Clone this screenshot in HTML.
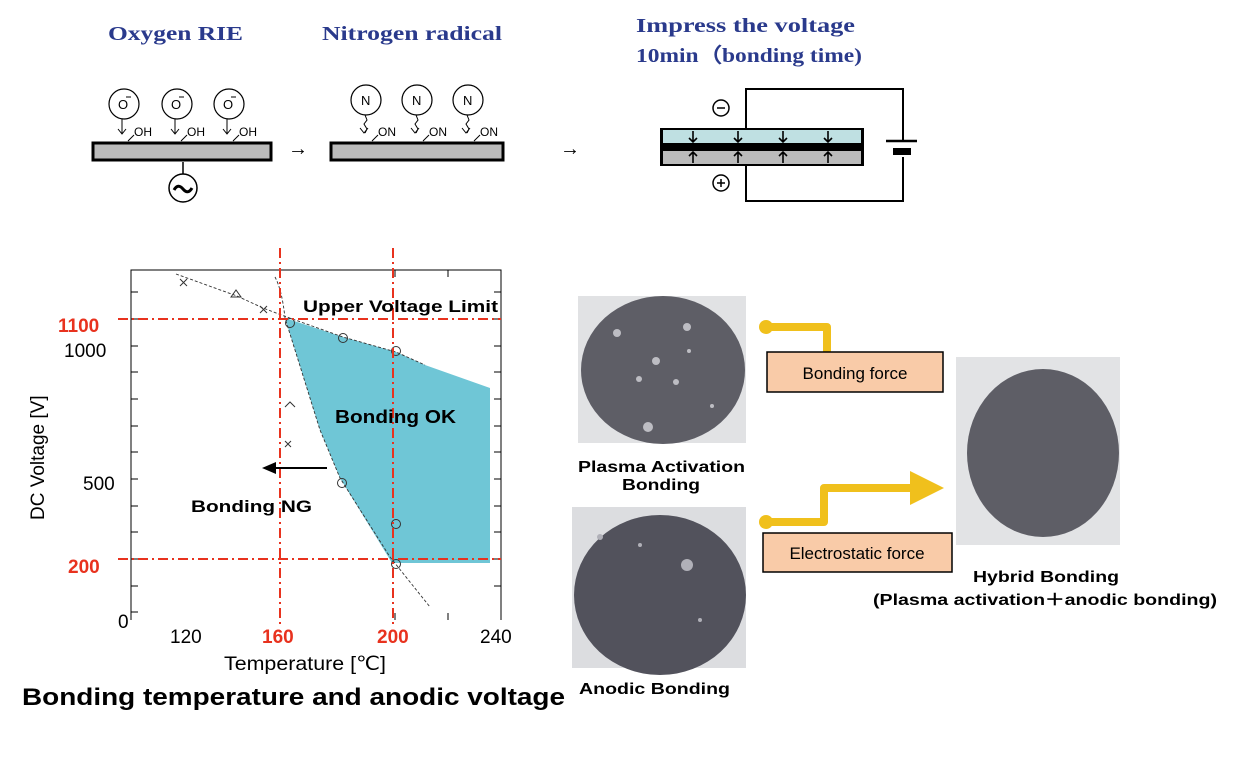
<!DOCTYPE html>
<html><head><meta charset="utf-8"><style>
html,body{margin:0;padding:0;background:#fff;width:1256px;height:771px;overflow:hidden}
svg{position:absolute;left:0;top:0}
</style></head><body>
<svg width="1256" height="771" viewBox="0 0 1256 771" font-family="Liberation Sans, sans-serif">
<!-- top titles -->
<g font-family="Liberation Serif, serif" font-weight="bold" fill="#2a3a8c" font-size="20">
<text x="108" y="40" textLength="135" lengthAdjust="spacingAndGlyphs">Oxygen RIE</text>
<text x="322" y="40" textLength="180" lengthAdjust="spacingAndGlyphs">Nitrogen radical</text>
<text x="636" y="32" textLength="219" lengthAdjust="spacingAndGlyphs">Impress the voltage</text>
<text x="636" y="62" textLength="226" lengthAdjust="spacingAndGlyphs">10min（bonding  time)</text>
</g>
<!-- Oxygen RIE plate -->
<rect x="93" y="143" width="178" height="17" fill="#bbb" stroke="#000" stroke-width="3"/>
<line x1="183" y1="162" x2="183" y2="175" stroke="#000" stroke-width="1.5"/>
<circle cx="183" cy="188" r="14" fill="#fff" stroke="#000" stroke-width="1.5"/>
<path d="M174 190 q4 -7 9 -1 q5 6 9 -1" fill="none" stroke="#000" stroke-width="3"/>
<g font-size="12" fill="#000">
<g transform="translate(124,0)"><circle cx="0" cy="104" r="15" fill="#fff" stroke="#000" stroke-width="1.2"/><text x="-6" y="109" font-size="13">O</text><line x1="2" y1="97" x2="7" y2="97" stroke="#000"/><line x1="-2" y1="119" x2="-2" y2="134" stroke="#000"/><path d="M-6 129 l4 5 l4 -5" fill="none" stroke="#000"/><line x1="4" y1="141" x2="10" y2="135" stroke="#000"/><text x="10" y="136">OH</text></g>
<g transform="translate(177,0)"><circle cx="0" cy="104" r="15" fill="#fff" stroke="#000" stroke-width="1.2"/><text x="-6" y="109" font-size="13">O</text><line x1="2" y1="97" x2="7" y2="97" stroke="#000"/><line x1="-2" y1="119" x2="-2" y2="134" stroke="#000"/><path d="M-6 129 l4 5 l4 -5" fill="none" stroke="#000"/><line x1="4" y1="141" x2="10" y2="135" stroke="#000"/><text x="10" y="136">OH</text></g>
<g transform="translate(229,0)"><circle cx="0" cy="104" r="15" fill="#fff" stroke="#000" stroke-width="1.2"/><text x="-6" y="109" font-size="13">O</text><line x1="2" y1="97" x2="7" y2="97" stroke="#000"/><line x1="-2" y1="119" x2="-2" y2="134" stroke="#000"/><path d="M-6 129 l4 5 l4 -5" fill="none" stroke="#000"/><line x1="4" y1="141" x2="10" y2="135" stroke="#000"/><text x="10" y="136">OH</text></g>
</g>
<text x="288" y="155" font-size="20">→</text>
<!-- Nitrogen plate -->
<rect x="331" y="143" width="172" height="17" fill="#bbb" stroke="#000" stroke-width="3"/>
<g font-size="12" fill="#000">
<g transform="translate(366,0)"><circle cx="0" cy="100" r="15" fill="#fff" stroke="#000" stroke-width="1.2"/><text x="-5" y="105" font-size="13">N</text><path d="M-1 115 l2 5 l-3 4 l3 5 l-2 4" fill="none" stroke="#000"/><path d="M-6 128 l4 5 l4 -5" fill="none" stroke="#000"/><line x1="6" y1="141" x2="12" y2="135" stroke="#000"/><text x="12" y="136">ON</text></g>
<g transform="translate(417,0)"><circle cx="0" cy="100" r="15" fill="#fff" stroke="#000" stroke-width="1.2"/><text x="-5" y="105" font-size="13">N</text><path d="M-1 115 l2 5 l-3 4 l3 5 l-2 4" fill="none" stroke="#000"/><path d="M-6 128 l4 5 l4 -5" fill="none" stroke="#000"/><line x1="6" y1="141" x2="12" y2="135" stroke="#000"/><text x="12" y="136">ON</text></g>
<g transform="translate(468,0)"><circle cx="0" cy="100" r="15" fill="#fff" stroke="#000" stroke-width="1.2"/><text x="-5" y="105" font-size="13">N</text><path d="M-1 115 l2 5 l-3 4 l3 5 l-2 4" fill="none" stroke="#000"/><path d="M-6 128 l4 5 l4 -5" fill="none" stroke="#000"/><line x1="6" y1="141" x2="12" y2="135" stroke="#000"/><text x="12" y="136">ON</text></g>
</g>
<text x="560" y="155" font-size="20">→</text>
<!-- voltage diagram -->
<path d="M746 128 V89 H903 V140 M903 157 V201 H746 V166" fill="none" stroke="#000" stroke-width="2"/>
<line x1="886" y1="141" x2="917" y2="141" stroke="#000" stroke-width="2.5"/>
<rect x="893" y="148" width="18" height="7" fill="#000"/>
<rect x="660" y="128" width="204" height="38" fill="#000"/>
<rect x="663" y="130" width="198" height="13" fill="#bfe0e2"/>
<rect x="663" y="151" width="198" height="13" fill="#bbb"/>
<g stroke="#000" stroke-width="1.6" fill="none">
<path d="M693 131v11m-4-4l4 4l4-4 M693 163v-11m-4 4l4-4l4 4"/>
<path d="M738 131v11m-4-4l4 4l4-4 M738 163v-11m-4 4l4-4l4 4"/>
<path d="M783 131v11m-4-4l4 4l4-4 M783 163v-11m-4 4l4-4l4 4"/>
<path d="M828 131v11m-4-4l4 4l4-4 M828 163v-11m-4 4l4-4l4 4"/>
</g>
<circle cx="721" cy="108" r="8" fill="#fff" stroke="#000" stroke-width="1.5"/><line x1="717" y1="108" x2="725" y2="108" stroke="#000" stroke-width="1.5"/>
<circle cx="721" cy="183" r="8" fill="#fff" stroke="#000" stroke-width="1.5"/><path d="M717 183h8M721 179v8" stroke="#000" stroke-width="1.5"/>

<!-- chart -->
<polygon points="285,318 343,337 396,352 425,365 490,388 490,563 392,563 340,478 320,430" fill="#6fc6d6"/>
<path d="M131 620 V270 H501 V620" fill="none" stroke="#000" stroke-width="1"/>
<g stroke="#000" stroke-width="1">
<path d="M131 292h7M131 319h7M131 346h7M131 372h7M131 399h7M131 426h7M131 452h7M131 479h7M131 506h7M131 532h7M131 559h7M131 586h7M131 612h7"/>
<path d="M501 292h-7M501 319h-7M501 346h-7M501 372h-7M501 399h-7M501 426h-7M501 452h-7M501 479h-7M501 506h-7M501 532h-7M501 559h-7M501 586h-7"/>
<path d="M280 270v7M395 270v7M448 270v7M395 620v-7M448 620v-7"/>
</g>
<g fill="none" stroke="#333" stroke-width="0.9" stroke-dasharray="3,2">
<path d="M176 274 L237 296 L263 308 L284 316 L343 337 L396 352 L425 365"/>
<path d="M275 277 Q282 290 285 318 L320 430 L340 478 L390 557 L430 607"/>
</g>
<g fill="none" stroke="#333" stroke-width="1">
<circle cx="290" cy="323" r="4.5"/><circle cx="343" cy="338" r="4.5"/><circle cx="396" cy="351" r="4.5"/><circle cx="342" cy="483" r="4.5"/><circle cx="396" cy="524" r="4.5"/><circle cx="396" cy="564" r="4.5"/>
<path d="M180 279l7 7M187 279l-7 7M260 306l7 7M267 306l-7 7M285 441l6 6M291 441l-6 6"/>
<path d="M231 297l5-7l5 7z M285 407l5-5l5 5"/>
</g>
<g stroke="#e8321e" stroke-width="2" stroke-dasharray="10,4,2,4" fill="none">
<path d="M280 248V628M393 248V628M118 319H501M118 559H501"/>
</g>
<line x1="327" y1="468" x2="272" y2="468" stroke="#000" stroke-width="2"/>
<path d="M262 468l14-6v12z" fill="#000"/>
<g font-weight="bold" fill="#000">
<text x="303" y="312" font-size="17" textLength="195" lengthAdjust="spacingAndGlyphs">Upper Voltage Limit</text>
<text x="335" y="423" font-size="18" textLength="121" lengthAdjust="spacingAndGlyphs">Bonding OK</text>
<text x="191" y="512" font-size="17" textLength="121" lengthAdjust="spacingAndGlyphs">Bonding NG</text>
</g>
<g font-size="19" fill="#000">
<text x="64" y="357">1000</text><text x="83" y="490">500</text><text x="118" y="628">0</text>
<text x="170" y="643">120</text><text x="480" y="643">240</text>
<text x="224" y="670" textLength="162" lengthAdjust="spacingAndGlyphs">Temperature [℃]</text>
<text transform="translate(44,520) rotate(-90)">DC Voltage [V]</text>
</g>
<g font-size="19" font-weight="bold" fill="#e8321e">
<text x="58" y="332">1100</text><text x="68" y="573">200</text>
<text x="262" y="643">160</text><text x="377" y="643">200</text>
</g>
<text x="22" y="705" font-size="24" font-weight="bold" textLength="543" lengthAdjust="spacingAndGlyphs">Bonding temperature and anodic voltage</text>

<!-- photos -->
<rect x="578" y="296" width="168" height="147" fill="#e1e2e4"/>
<ellipse cx="663" cy="370" rx="82" ry="74" fill="#5e5e66"/>
<g fill="#bdbdc3"><circle cx="617" cy="333" r="4"/><circle cx="687" cy="327" r="4"/><circle cx="656" cy="361" r="4"/><circle cx="639" cy="379" r="3"/><circle cx="676" cy="382" r="3"/><circle cx="648" cy="427" r="5"/><circle cx="689" cy="351" r="2"/><circle cx="712" cy="406" r="2"/></g>
<rect x="572" y="507" width="174" height="161" fill="#dcdde0"/>
<ellipse cx="660" cy="595" rx="86" ry="80" fill="#52525c"/>
<g fill="#b0b0b8"><circle cx="687" cy="565" r="6"/><circle cx="600" cy="537" r="3"/><circle cx="640" cy="545" r="2"/><circle cx="700" cy="620" r="2"/></g>
<rect x="956" y="357" width="164" height="188" fill="#e2e3e5"/>
<ellipse cx="1043" cy="453" rx="76" ry="84" fill="#5e5e66"/>
<g font-weight="bold" font-size="16" fill="#000">
<text x="578" y="472" textLength="167" lengthAdjust="spacingAndGlyphs">Plasma Activation</text>
<text x="622" y="490" textLength="78" lengthAdjust="spacingAndGlyphs">Bonding</text>
<text x="579" y="694" textLength="151" lengthAdjust="spacingAndGlyphs">Anodic Bonding</text>
<text x="973" y="582" textLength="146" lengthAdjust="spacingAndGlyphs">Hybrid Bonding</text>
<text x="873" y="605" textLength="344" lengthAdjust="spacingAndGlyphs">(Plasma activation＋anodic bonding)</text>
</g>
<!-- connectors -->
<g fill="none" stroke="#f0c01c" stroke-width="8" stroke-linejoin="round">
<path d="M766 327H827V352"/>
<path d="M766 522H824V488H910"/>
</g>
<circle cx="766" cy="327" r="7" fill="#f0c01c"/>
<circle cx="766" cy="522" r="7" fill="#f0c01c"/>
<path d="M910 471L944 488L910 505z" fill="#f0c01c"/>
<rect x="767" y="352" width="176" height="40" fill="#f9cba8" stroke="#000" stroke-width="1.5"/>
<text x="855" y="379" font-size="17" text-anchor="middle">Bonding  force</text>
<rect x="763" y="533" width="189" height="39" fill="#f9cba8" stroke="#000" stroke-width="1.5"/>
<text x="857" y="559" font-size="17" text-anchor="middle">Electrostatic force</text>
</svg>
</body></html>
